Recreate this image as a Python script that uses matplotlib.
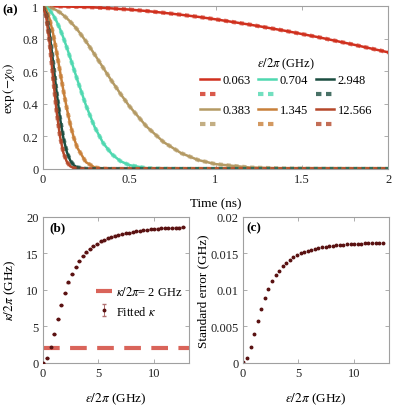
import numpy as np
import matplotlib
matplotlib.use("Agg")
import matplotlib.pyplot as plt
from matplotlib.lines import Line2D
from matplotlib.ticker import FuncFormatter

plt.rcParams['font.family'] = ['Liberation Serif', 'DejaVu Serif']
plt.rcParams['mathtext.fontset'] = 'stix'
plt.rcParams['font.size'] = 9

# ---- panel (a): decay curves ----
time_ns = [0, 0.02, 0.04, 0.06, 0.08, 0.10, 0.12, 0.14, 0.16, 0.18, 0.20, 0.25, 0.30,
           0.35, 0.40, 0.45, 0.50, 0.60, 0.70, 0.80, 0.90, 1.00, 1.20, 1.40, 1.60, 1.80, 2.00]

eps_labels = ['0.063', '0.383', '0.704', '1.345', '2.948', '12.566']
decay_0063 = [1, 1, 1, 1, 0.999, 0.999, 0.999, 0.998, 0.998, 0.997, 0.997, 0.995, 0.993,
              0.990, 0.987, 0.983, 0.980, 0.971, 0.960, 0.948, 0.935, 0.920, 0.887, 0.850, 0.809, 0.764, 0.717]
decay_0383 = [1, 0.998, 0.994, 0.986, 0.975, 0.962, 0.945, 0.926, 0.905, 0.882, 0.857, 0.785, 0.705,
              0.622, 0.540, 0.462, 0.388, 0.262, 0.165, 0.098, 0.055, 0.030, 0.009, 0.003, 0.001, 0, 0]
decay_0704 = [1, 0.994, 0.976, 0.947, 0.908, 0.861, 0.806, 0.745, 0.681, 0.615, 0.549, 0.392, 0.259,
              0.159, 0.091, 0.048, 0.024, 0.005, 0.001, 0, 0, 0, 0, 0, 0, 0, 0]
decay_1345 = [1, 0.980, 0.922, 0.833, 0.722, 0.601, 0.480, 0.369, 0.272, 0.192, 0.131, 0.042, 0.010,
              0.002, 0, 0, 0, 0, 0, 0, 0, 0, 0, 0, 0, 0, 0]
decay_2948 = [1, 0.955, 0.831, 0.659, 0.476, 0.313, 0.188, 0.103, 0.051, 0.023, 0.010, 0.001, 0,
              0, 0, 0, 0, 0, 0, 0, 0, 0, 0, 0, 0, 0, 0]
decay_12566 = [1, 0.938, 0.773, 0.560, 0.357, 0.200, 0.098, 0.043, 0.016, 0.006, 0.002, 0, 0,
               0, 0, 0, 0, 0, 0, 0, 0, 0, 0, 0, 0, 0, 0]
decays = [decay_0063, decay_0383, decay_0704, decay_1345, decay_2948, decay_12566]
colors = ['#d0301e', '#b49a64', '#4fd8b0', '#c8803a', '#1a4d40', '#b5482a']

# ---- panels (b), (c) ----
eps_ghz = [0.063, 0.383, 0.704, 1.025, 1.345, 1.666, 1.987, 2.307, 2.628, 2.948,
           3.269, 3.590, 3.910, 4.231, 4.551, 4.872, 5.193, 5.513, 5.834, 6.154,
           6.475, 6.796, 7.116, 7.437, 7.757, 8.078, 8.399, 8.719, 9.040, 9.360,
           9.681, 10.002, 10.322, 10.643, 10.963, 11.284, 11.605, 11.925, 12.246, 12.566]
kappa_ghz = [0.05, 0.68, 2.12, 3.93, 6.0, 7.87, 9.5, 11.0, 12.16, 13.1,
             13.9, 14.6, 15.1, 15.6, 16.0, 16.3, 16.6, 16.8, 17.0, 17.2,
             17.4, 17.5, 17.65, 17.75, 17.8, 17.9, 18.0, 18.05, 18.15, 18.2,
             18.25, 18.3, 18.35, 18.4, 18.4, 18.45, 18.45, 18.5, 18.5, 18.55]
std_err = [0.0001, 0.00072, 0.00213, 0.00389, 0.00575, 0.00742, 0.00887, 0.0101, 0.01118, 0.01195,
           0.01262, 0.01321, 0.01367, 0.01407, 0.01444, 0.01475, 0.01498, 0.01516, 0.01534, 0.01548,
           0.01561, 0.0157, 0.01579, 0.01588, 0.01597, 0.01602, 0.01606, 0.01611, 0.01615, 0.0162,
           0.01622, 0.01624, 0.01629, 0.01629, 0.01634, 0.01634, 0.01638, 0.01638, 0.0164, 0.01643]
kappa_ref = 2

spine_col = '#a0a0a0'
dot_col = '#5a1212'


def style_axes(ax):
    for s in ax.spines.values():
        s.set_color(spine_col)
        s.set_linewidth(0.8)
    ax.tick_params(direction='in', top=True, right=True, length=3, width=0.6,
                   color=spine_col, labelcolor='#222222', labelsize=9, pad=3)
    fmt = FuncFormatter(lambda v, p: '%g' % round(v, 6))
    ax.xaxis.set_major_formatter(fmt)
    ax.yaxis.set_major_formatter(fmt)


fig = plt.figure(figsize=(3.97, 4.14), dpi=100)
ax_a = fig.add_axes([0.1076, 0.5894, 0.8705, 0.393])
ax_b = fig.add_axes([0.1076, 0.1208, 0.3677, 0.3538])
ax_c = fig.add_axes([0.6113, 0.1208, 0.3678, 0.3538])

# (a)
solid_h = []
dot_h = []
for vals, c, lab in zip(decays, colors, eps_labels):
    l1, = ax_a.plot(time_ns, vals, color=c, lw=1.8, label=lab, zorder=3)
    ax_a.plot(time_ns, vals, color=c, lw=3, alpha=0.7, ls=(0, (1, 0.9)), zorder=4)
    solid_h.append(l1)
    # legend shows two squares for the data
    dot_h.append(Line2D([], [], color=c, lw=3, alpha=0.8, ls=(0, (1.3, 1.1))))
ax_a.set_xlim(0, 2)
ax_a.set_ylim(0, 1)
ax_a.set_xticks([0, 0.5, 1, 1.5, 2])
ax_a.set_yticks([0, 0.2, 0.4, 0.6, 0.8, 1])
style_axes(ax_a)
ax_a.set_xlabel('Time (ns)', fontsize=9.5)
ax_a.set_ylabel(r'exp$\,(-\chi_0)$', fontsize=9.5)
ax_a.xaxis.set_label_coords(0.5, -0.175)
ax_a.yaxis.set_label_coords(-0.074, 0.5)

# legend: columns are filled top-down
col_pairs = [(0, 1), (2, 3), (4, 5)]
handles, labels = [], []
for i, j in col_pairs:
    handles += [solid_h[i], dot_h[i], solid_h[j], dot_h[j]]
    labels += [eps_labels[i], '', eps_labels[j], '']
ax_a.legend(handles, labels, ncol=3, frameon=False, loc='center',
            bbox_to_anchor=(0.705, 0.465), title=r'$\epsilon/2\pi$ (GHz)',
            fontsize=9, title_fontsize=9, handlelength=1.45, handletextpad=0.3,
            columnspacing=0.6, labelspacing=0.25)
fig.text(0.005, 0.976, '(a)', fontsize=9.5, fontweight='bold', ha='left', va='center')

# (b)
ax_b.axhline(kappa_ref, color='#d9645a', lw=3, dashes=(4, 2.5),
             label=r'$\kappa/2\pi$= 2 GHz', zorder=2)
ax_b.errorbar(eps_ghz, kappa_ghz, yerr=std_err, fmt='o', ms=1.8, color=dot_col,
              ecolor='#b07070', elinewidth=0.7, capsize=1.5, label=r'Fitted $\kappa$', zorder=3)
ax_b.set_xlim(0, 13.1)
ax_b.set_ylim(0, 20)
ax_b.set_xticks([0, 5, 10])
ax_b.set_yticks([0, 5, 10, 15, 20])
style_axes(ax_b)
ax_b.set_xlabel(r'$\epsilon/2\pi$ (GHz)', fontsize=9.5)
ax_b.set_ylabel(r'$\kappa/2\pi$ (GHz)', fontsize=9.5)
ax_b.xaxis.set_label_coords(0.5, -0.19)
ax_b.yaxis.set_label_coords(-0.17, 0.5)
ax_b.legend(frameon=False, loc='center', bbox_to_anchor=(0.66, 0.42), fontsize=9,
            handlelength=1.3, handletextpad=0.3, labelspacing=0.5)
ax_b.text(0.045, 0.925, '(b)', transform=ax_b.transAxes, fontsize=9.5,
          fontweight='bold', ha='left', va='center')

# (c)
ax_c.plot(eps_ghz, std_err, 'o', ms=1.8, color=dot_col)
ax_c.set_xlim(0, 13.1)
ax_c.set_ylim(0, 0.02)
ax_c.set_xticks([0, 5, 10])
ax_c.set_yticks([0, 0.005, 0.01, 0.015, 0.02])
style_axes(ax_c)
ax_c.set_xlabel(r'$\epsilon/2\pi$ (GHz)', fontsize=9.5)
ax_c.set_ylabel('Standard error (GHz)', fontsize=9.5)
ax_c.xaxis.set_label_coords(0.5, -0.19)
ax_c.yaxis.set_label_coords(-0.23, 0.5)
ax_c.text(0.023, 0.925, '(c)', transform=ax_c.transAxes, fontsize=9.5,
          fontweight='bold', ha='left', va='center')

fig.savefig('out.png', dpi=100)
